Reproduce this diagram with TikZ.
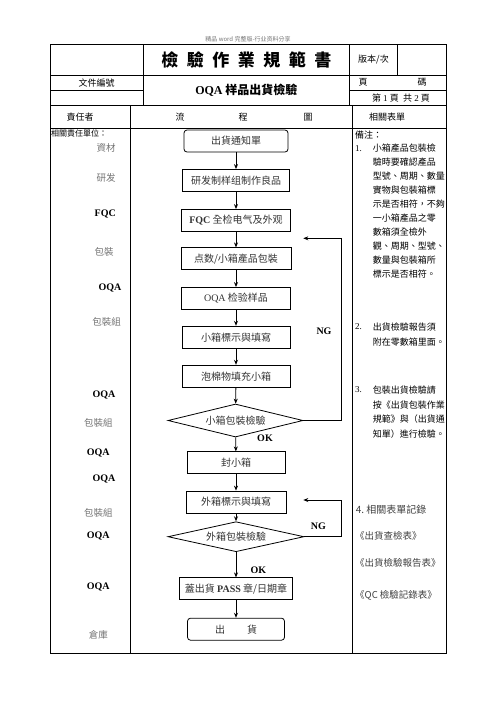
\documentclass[tikz,border=0pt]{standalone}
\usepackage{fontspec}
\setmainfont{Noto Sans CJK TC}
\newfontfamily\lat{Liberation Serif}
\usetikzlibrary{shapes.geometric,arrows.meta}
\tikzset{
    grid/.style={line width=1pt},
    flow/.style={draw,line width=.8pt,minimum height=22pt,inner sep=0pt,
        font=\fontsize{10}{12}\selectfont,text=black!80},
    startstop/.style={flow,rounded corners=3pt},
    check/.style={draw,diamond,line width=.8pt,aspect=4,inner sep=0pt,
        font=\fontsize{10}{12}\selectfont,text=black!80},
    flowarrow/.style={-{Stealth[length=5pt,width=4pt]},line width=.8pt},
    head/.style={font=\fontsize{9}{11}\selectfont},
    unit/.style={font=\fontsize{9.5}{11}\selectfont,text=black!55},
    unitq/.style={font=\lat\bfseries\fontsize{10}{12}\selectfont},
    note/.style={anchor=north west,inner sep=0pt,align=left,font=\fontsize{9}{14}\selectfont},
    notenum/.style={anchor=west,inner sep=0pt,font=\lat\fontsize{9}{11}\selectfont},
    form/.style={anchor=west,inner sep=0pt,font=\fontsize{9.5}{11}\selectfont,text=black!75},
    loopmark/.style={font=\lat\bfseries\fontsize{10}{12}\selectfont}
}

\begin{document}
\begin{tikzpicture}[x=1pt,y=-1pt]
        \useasboundingbox (0,0) rectangle (496,702);
        \node[font=\fontsize{6}{7}\selectfont,text=black!55] (mark) at (248,39) {精品 word 完整版-行业资料分享};
        \draw[grid] (50,44.3) rectangle (446.7,105.3);
        \draw[grid] (50,75.3) -- (446.7,75.3);
        \draw[grid] (50,90) -- (143.3,90) (349.3,90) -- (446.7,90);
        \draw[grid] (143.3,44.3) -- (143.3,105.3) (349.3,44.3) -- (349.3,105.3)
            (397.7,44.3) -- (397.7,75.3);
        \draw[grid] (50,105.3) rectangle (446.7,653.3);
        \draw[grid] (50,128.3) -- (446.7,128.3);
        \draw[grid] (130.5,105.3) -- (130.5,653.3) (352.3,105.3) -- (352.3,653.3);
        \node[font=\fontsize{17}{20}\selectfont\bfseries] (title) at (246.3,60)
            {檢\enspace 驗\enspace 作\enspace 業\enspace 規\enspace 範\enspace 書};
        \node[head] (version) at (373.5,60) {版本/次};
        \node[head] (docno) at (96.7,82.7) {文件編號};
        \node[font=\fontsize{12}{14}\selectfont\bfseries] (subject) at (246.3,90.3) {{\lat OQA} 样品出貨檢驗};
        \node[head] (page) at (392.5,82.7) {頁\hspace{50pt}碼};
        \node[head] (pageno) at (401,97.7) {第 {\lat 1} 頁\enspace 共 {\lat 2} 頁};
        \node[head] (owner) at (80,117) {責任者};
        \node[head] (chart1) at (180,117) {流};
        \node[head] (chart2) at (243,117) {程};
        \node[head] (chart3) at (308,117) {圖};
        \node[head] (forms) at (387,117) {相關表單};
        \node[anchor=west,inner sep=0pt,font=\fontsize{8}{10}\selectfont] (units) at (51,133.3) {相關責任單位：};
        \node[unit] (u1) at (106,148.3) {資材};
        \node[unit] (u2) at (106,178.3) {研发};
        \node[unitq] (u3) at (105.3,213.7) {FQC};
        \node[unit] (u4) at (104,251.7) {包裝};
        \node[unitq] (u5) at (110,288.3) {OQA};
        \node[unit] (u6) at (106.7,321.7) {包裝組};
        \node[unitq] (u7) at (104,395) {OQA};
        \node[unit] (u8) at (98.3,423.3) {包裝組};
        \node[unitq] (u9) at (98.3,453.3) {OQA};
        \node[unitq] (u10) at (104,479) {OQA};
        \node[unit] (u11) at (98.3,513.3) {包裝組};
        \node[unitq] (u12) at (98.3,535.7) {OQA};
        \node[unitq] (u13) at (98.3,587.3) {OQA};
        \node[unit] (u14) at (98.3,635) {倉庫};
        \node[startstop,minimum width=104pt] (notice) at (236,141) {出貨通知單};
        \node[flow,minimum width=107pt] (sample) at (236,180.5) {研发制样组制作良品};
        \node[flow,minimum width=109pt] (fqc) at (236,220.5) {{\lat\bfseries FQC} 全检电气及外观};
        \node[flow,minimum width=110pt] (pack) at (236,258.8) {点数/小箱產品包裝};
        \node[flow,minimum width=109pt] (oqa) at (236,298.5) {{\lat OQA} 检验样品};
        \node[flow,minimum width=108pt] (label) at (236,337.2) {小箱標示與填寫};
        \node[flow,minimum width=108pt] (foam) at (236,376.2) {泡棉物填充小箱};
        \node[check,minimum width=135pt,minimum height=33pt] (boxcheck) at (235.5,420.5) {小箱包裝檢驗};
        \node[flow,minimum width=98pt] (seal) at (236,462.8) {封小箱};
        \node[flow,minimum width=100pt] (outlabel) at (236,502) {外箱標示與填寫};
        \node[check,minimum width=136pt,minimum height=30pt] (outcheck) at (236,536.7) {外箱包裝檢驗};
        \node[flow,minimum width=113pt] (stamp) at (236,588.8) {蓋出貨 {\lat\bfseries PASS} 章/日期章};
        \node[startstop,minimum width=97pt] (ship) at (236,629.2) {出\hspace{22pt}貨};
        \draw[flowarrow] (notice) -- (sample);
        \draw[flowarrow] (sample) -- (fqc);
        \draw[flowarrow] (fqc) -- (pack);
        \draw[flowarrow] (pack) -- (oqa);
        \draw[flowarrow] (oqa) -- (label);
        \draw[flowarrow] (label) -- (foam);
        \draw[flowarrow] (foam) -- (boxcheck);
        \draw[flowarrow] (boxcheck) -- (seal);
        \draw[flowarrow] (seal) -- (outlabel);
        \draw[flowarrow] (outlabel) -- (outcheck);
        \draw[flowarrow] (outcheck) -- (stamp);
        \draw[flowarrow] (stamp) -- (ship);
        \coordinate (back1) at (303.3,238.3);
        \coordinate (back2) at (303.3,500);
        \draw[flowarrow] (boxcheck.east) -- (341,420.5) -- (341,238.3) -- (back1);
        \draw[flowarrow] (outcheck.east) -- (341.7,536.7) -- (341.7,500) -- (back2);
        \node[loopmark] (ng1) at (324,331.7) {NG};
        \node[loopmark] (ok1) at (265,438.3) {OK};
        \node[loopmark] (ng2) at (318.3,526.7) {NG};
        \node[loopmark] (ok2) at (258.3,570) {OK};
        \node[anchor=west,inner sep=0pt,font=\fontsize{9}{11}\selectfont] (remark) at (355,135) {備注：};
        \node[notenum] (n1) at (355,148.3) {1.};
        \node[note] (note1) at (372.7,143.9) {小箱產品包裝檢\\驗時要確認產品\\型號、周期、數量\\實物與包裝箱標\\示是否相符，不夠\\一小箱產品之零\\數箱須全檢外\\觀、周期、型號、\\數量與包裝箱所\\標示是否相符。};
        \node[notenum] (n2) at (355,326.7) {2.};
        \node[note,font=\fontsize{9}{15}\selectfont] (note2) at (372.7,322.3) {出貨檢驗報告須\\附在零數箱里面。};
        \node[notenum] (n3) at (355,390) {3.};
        \node[note,font=\fontsize{9}{14.6}\selectfont] (note3) at (372.7,385.6) {包裝出貨檢驗請\\按《出貨包裝作業\\規範》與（出貨通\\知單）進行檢驗。};
        \node[form,font=\fontsize{10}{12}\selectfont] (n4) at (355.7,509.3) {4.~相關表單記錄};
        \node[form] (f1) at (355,536) {《出貨查檢表》};
        \node[form] (f2) at (355,563.3) {《出貨檢驗報告表》};
        \node[form] (f3) at (355,595) {《QC 檢驗記錄表》};
\end{tikzpicture}
\end{document}
